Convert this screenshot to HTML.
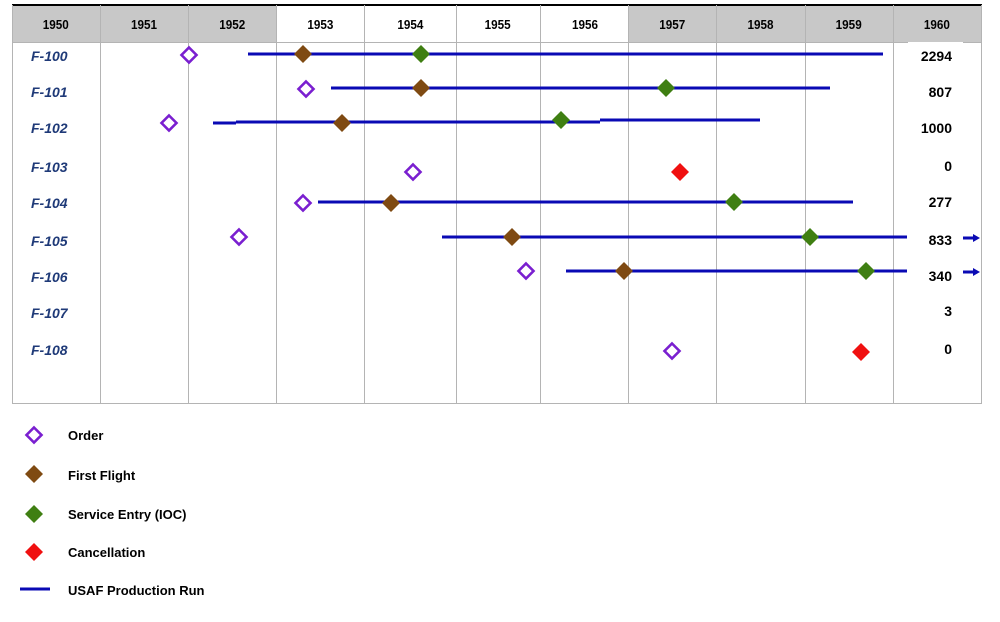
<!DOCTYPE html>
<html><head><style>body{margin:0;background:#fff}svg{display:block}</style></head><body>
<svg width="1000" height="622" xmlns="http://www.w3.org/2000/svg" font-family="Liberation Sans, sans-serif">
<defs>
<g id="o"><path d="M0,-7.5 L7.5,0 L0,7.5 L-7.5,0Z" fill="#fff" stroke="#7a1fd0" stroke-width="2.6"/></g>
<g id="f"><path d="M0,-9 L9,0 L0,9 L-9,0Z" fill="#7f4a12"/></g>
<g id="s"><path d="M0,-9 L9,0 L0,9 L-9,0Z" fill="#3f7f12"/></g>
<g id="c"><path d="M0,-9 L9,0 L0,9 L-9,0Z" fill="#f01010"/></g>
</defs>
<rect x="12" y="5" width="264" height="37" fill="#c8c8c8"/>
<rect x="628" y="5" width="354" height="37" fill="#c8c8c8"/>
<line x1="12" y1="5" x2="982" y2="5" stroke="#000" stroke-width="2"/>
<g stroke="#b4b4b4" stroke-width="1">
<line x1="12.5" y1="5" x2="12.5" y2="403"/>
<line x1="100.5" y1="5" x2="100.5" y2="403"/>
<line x1="188.5" y1="5" x2="188.5" y2="403"/>
<line x1="276.5" y1="5" x2="276.5" y2="403"/>
<line x1="364.5" y1="5" x2="364.5" y2="403"/>
<line x1="456.5" y1="5" x2="456.5" y2="403"/>
<line x1="540.5" y1="5" x2="540.5" y2="403"/>
<line x1="628.5" y1="5" x2="628.5" y2="403"/>
<line x1="716.5" y1="5" x2="716.5" y2="403"/>
<line x1="805.5" y1="5" x2="805.5" y2="403"/>
<line x1="893.5" y1="5" x2="893.5" y2="403"/>
<line x1="981.5" y1="5" x2="981.5" y2="403"/>
<line x1="12" y1="42.5" x2="982" y2="42.5"/>
<line x1="12" y1="403.5" x2="982" y2="403.5"/>
</g>
<rect x="20" y="43" width="60" height="10" fill="#fff"/>
<rect x="908" y="42" width="55" height="10" fill="#fff"/>
<g font-size="13" font-weight="bold" text-anchor="middle" fill="#000" transform="scale(0.9,1)">
<text x="62" y="29">1950</text><text x="160" y="29">1951</text><text x="258" y="29">1952</text>
<text x="356" y="29">1953</text><text x="456" y="29">1954</text><text x="553" y="29">1955</text>
<text x="650" y="29">1956</text><text x="747" y="29">1957</text><text x="845" y="29">1958</text>
<text x="943" y="29">1959</text><text x="1041" y="29">1960</text>
</g>
<g font-size="14" font-weight="bold" font-style="italic" fill="#1f3a78">
<text x="31" y="61">F-100</text><text x="31" y="97">F-101</text><text x="31" y="133">F-102</text>
<text x="31" y="172">F-103</text><text x="31" y="208">F-104</text><text x="31" y="246">F-105</text>
<text x="31" y="282">F-106</text><text x="31" y="318">F-107</text><text x="31" y="355">F-108</text>
</g>
<g font-size="14" font-weight="bold" text-anchor="end" fill="#000">
<text x="952" y="61">2294</text><text x="952" y="97">807</text><text x="952" y="133">1000</text>
<text x="952" y="171">0</text><text x="952" y="207">277</text><text x="952" y="245">833</text>
<text x="952" y="281">340</text><text x="952" y="316">3</text><text x="952" y="354">0</text>
</g>
<g stroke="#0a0ab4" stroke-width="3">
<line x1="248" y1="54" x2="883" y2="54"/>
<line x1="331" y1="88" x2="830" y2="88"/>
<line x1="213" y1="123" x2="236" y2="123"/><line x1="236" y1="122" x2="600" y2="122"/><line x1="600" y1="120" x2="760" y2="120"/>
<line x1="318" y1="202" x2="853" y2="202"/>
<line x1="442" y1="237" x2="907" y2="237"/>
<line x1="566" y1="271" x2="907" y2="271"/>
<line x1="963" y1="238" x2="974" y2="238"/><line x1="963" y1="272" x2="974" y2="272"/>
<line x1="20" y1="589" x2="50" y2="589"/>
</g>
<path d="M973,234 L980,238 L973,242Z M973,268 L980,272 L973,276Z" fill="#0a0ab4"/>
<use href="#o" x="189" y="55"/><use href="#f" x="303" y="54"/><use href="#s" x="421" y="54"/>
<use href="#o" x="306" y="89"/><use href="#f" x="421" y="88"/><use href="#s" x="666" y="88"/>
<use href="#o" x="169" y="123"/><use href="#f" x="342" y="123"/><use href="#s" x="561" y="120"/>
<use href="#o" x="413" y="172"/><use href="#c" x="680" y="172"/>
<use href="#o" x="303" y="203"/><use href="#f" x="391" y="203"/><use href="#s" x="734" y="202"/>
<use href="#o" x="239" y="237"/><use href="#f" x="512" y="237"/><use href="#s" x="810" y="237"/>
<use href="#o" x="526" y="271"/><use href="#f" x="624" y="271"/><use href="#s" x="866" y="271"/>
<use href="#o" x="672" y="351"/><use href="#c" x="861" y="352"/>
<use href="#o" x="34" y="435"/><use href="#f" x="34" y="474"/><use href="#s" x="34" y="514"/><use href="#c" x="34" y="552"/>
<g font-size="13" font-weight="bold" fill="#000">
<text x="68" y="440">Order</text><text x="68" y="480">First Flight</text>
<text x="68" y="519">Service Entry (IOC)</text><text x="68" y="557">Cancellation</text>
<text x="68" y="595">USAF Production Run</text>
</g>
</svg>
</body></html>
